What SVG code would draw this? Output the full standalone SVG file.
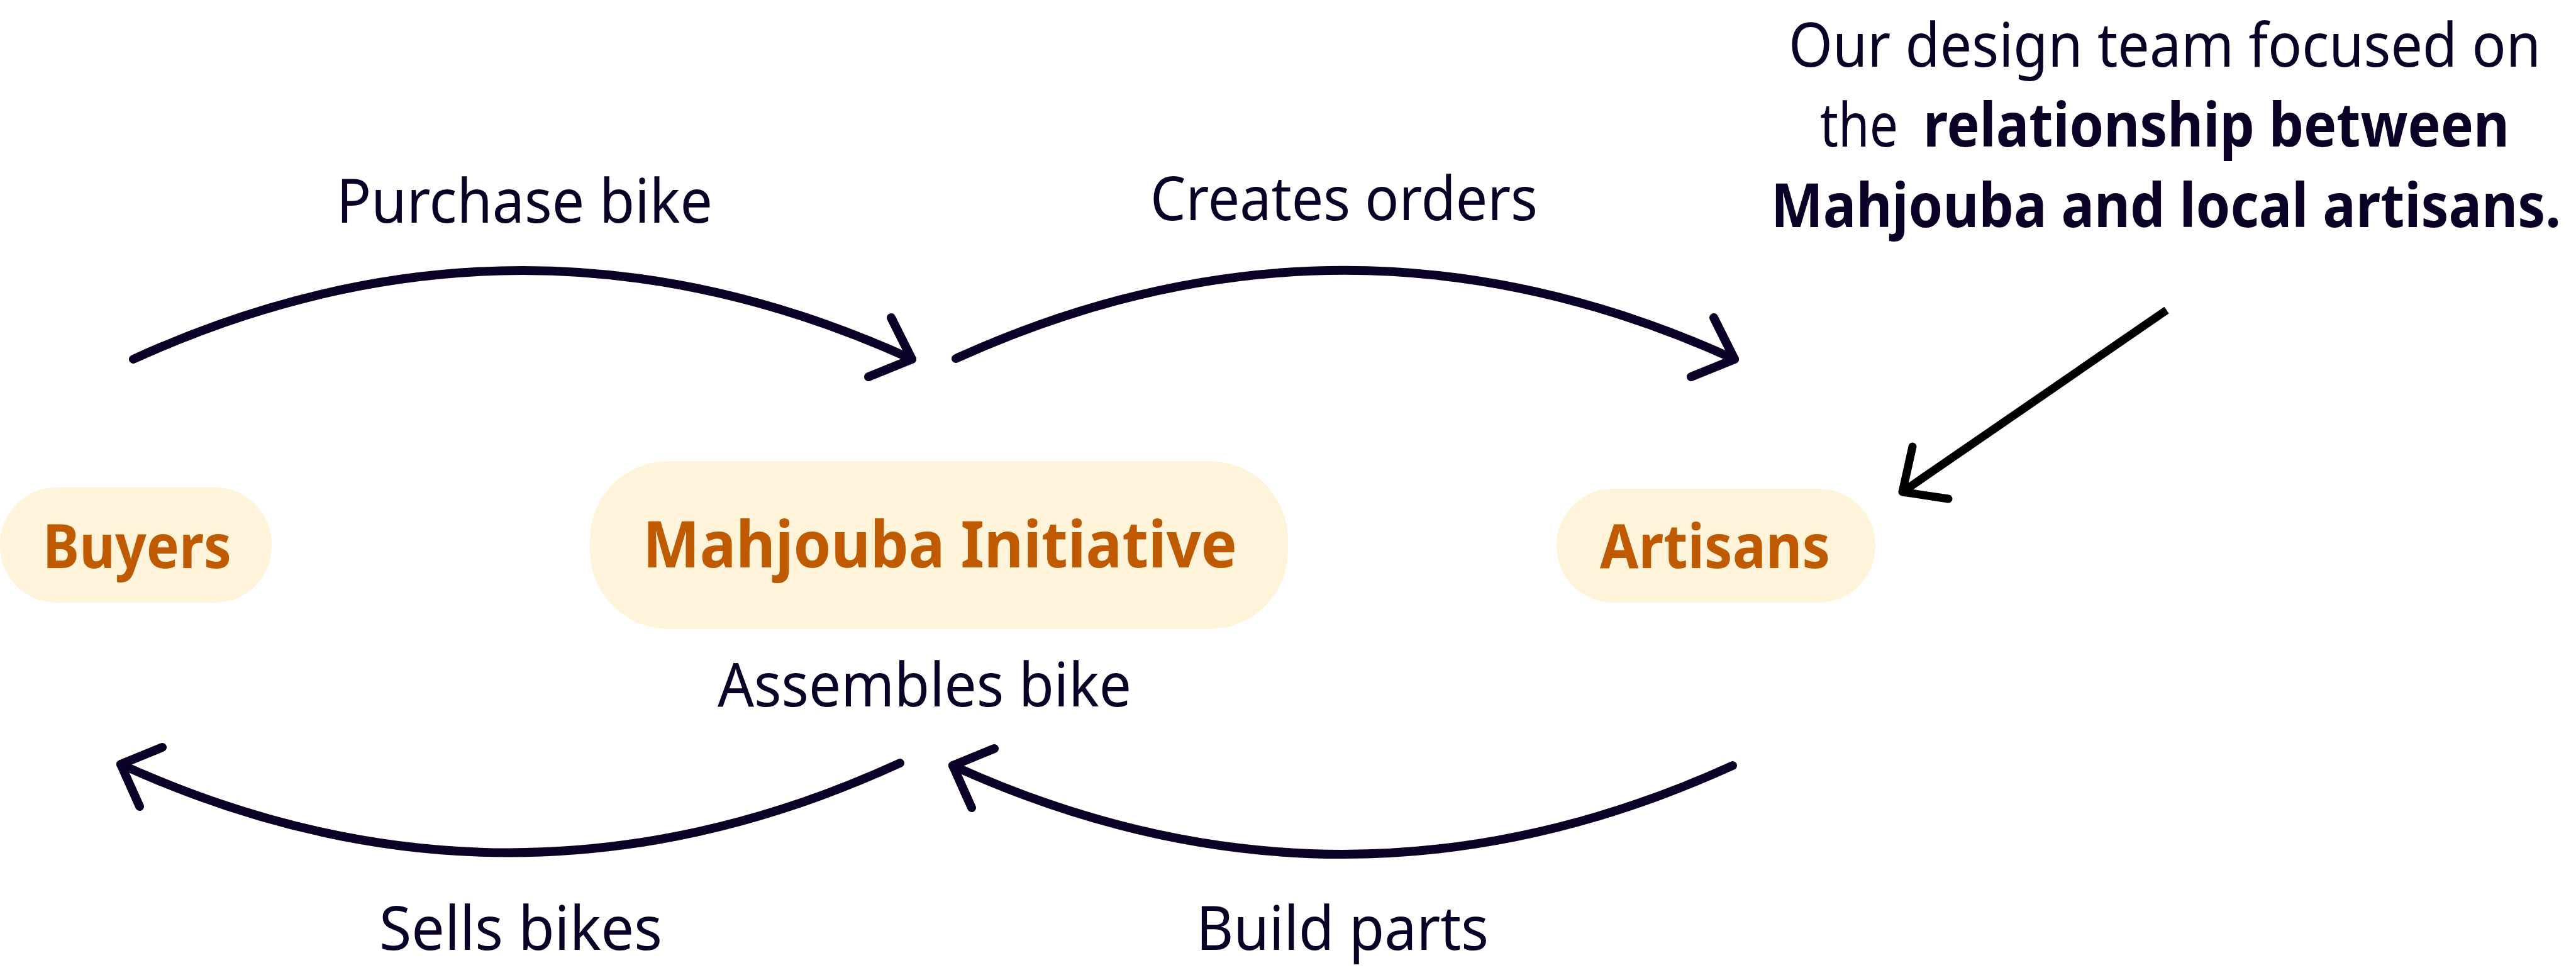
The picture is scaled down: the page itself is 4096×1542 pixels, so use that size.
<svg xmlns="http://www.w3.org/2000/svg" width="4096" height="1542" viewBox="0 0 4096 1542">
<style>
.pill{fill:#fff4d9}
.nl{font-family:"Noto Sans","Open Sans",sans-serif;font-weight:700;fill:#bf5a00}
.lb{font-family:"Noto Sans","Open Sans",sans-serif;font-size:96px;fill:#0b0026}
.b{font-weight:700}
.e{text-anchor:end}
.con{fill:none;stroke:#0b0026;stroke-width:14;stroke-linecap:round;stroke-linejoin:round}
.blk{fill:none;stroke:#000;stroke-width:13;stroke-linejoin:round}
</style>
<rect width="4096" height="1542" fill="#fff"/>
<g id="connectors">
<path class="con" d="M212,571 Q831,289 1450,571"/>
<polyline class="con" points="1417,505 1450,571 1381,599"/>
<path class="con" d="M1520,570 Q2139,289 2758,571"/>
<polyline class="con" points="2725,505 2758,571 2689,599"/>
<path class="con" d="M1431,1213 Q812,1497 192,1215"/>
<polyline class="con" points="258,1188 192,1215 222,1282"/>
<path class="con" d="M2755,1217 Q2135,1499 1515,1217"/>
<polyline class="con" points="1581,1190 1515,1217 1545,1284"/>
<line class="blk" x1="3445" y1="493" x2="3028" y2="780" stroke-linecap="butt"/>
<polyline class="blk" points="3041,710 3025,782 3098,793" stroke-linecap="round"/>
</g>
<g id="node-buyers">
<rect class="pill" x="0" y="775" width="432" height="183" rx="90" ry="90"/>
<text class="nl" x="68" y="903" font-size="96" textLength="300" lengthAdjust="spacingAndGlyphs">Buyers</text>
</g>
<g id="node-mahjouba">
<rect class="pill" x="938" y="733" width="1110" height="267" rx="125" ry="125"/>
<text class="nl" x="1022" y="902" font-size="103" textLength="945" lengthAdjust="spacingAndGlyphs">Mahjouba Initiative</text>
</g>
<g id="node-artisans">
<rect class="pill" x="2475" y="777" width="507" height="181" rx="90" ry="90"/>
<text class="nl" x="2544" y="903" font-size="96" textLength="366" lengthAdjust="spacingAndGlyphs">Artisans</text>
</g>
<g id="labels">
<text class="lb" x="535" y="354" textLength="598" lengthAdjust="spacingAndGlyphs">Purchase bike</text>
<text class="lb" x="1829" y="350" textLength="616" lengthAdjust="spacingAndGlyphs">Creates orders</text>
<text class="lb" x="1141" y="1123" textLength="658" lengthAdjust="spacingAndGlyphs">Assembles bike</text>
<text class="lb" x="603" y="1510" textLength="450" lengthAdjust="spacingAndGlyphs">Sells bikes</text>
<text class="lb" x="1902" y="1510" textLength="465" lengthAdjust="spacingAndGlyphs">Build parts</text>
</g>
<g id="note">
<text class="lb e" x="4040" y="106" textLength="1196" lengthAdjust="spacingAndGlyphs">Our design team focused on</text>
<text class="lb" x="2894" y="233" textLength="124" lengthAdjust="spacingAndGlyphs">the</text>
<text class="lb b e" x="3990" y="233" textLength="932" lengthAdjust="spacingAndGlyphs">relationship between</text>
<text class="lb b e" x="4072" y="361" textLength="1256" lengthAdjust="spacingAndGlyphs">Mahjouba and local artisans.</text>
</g>
</svg>
